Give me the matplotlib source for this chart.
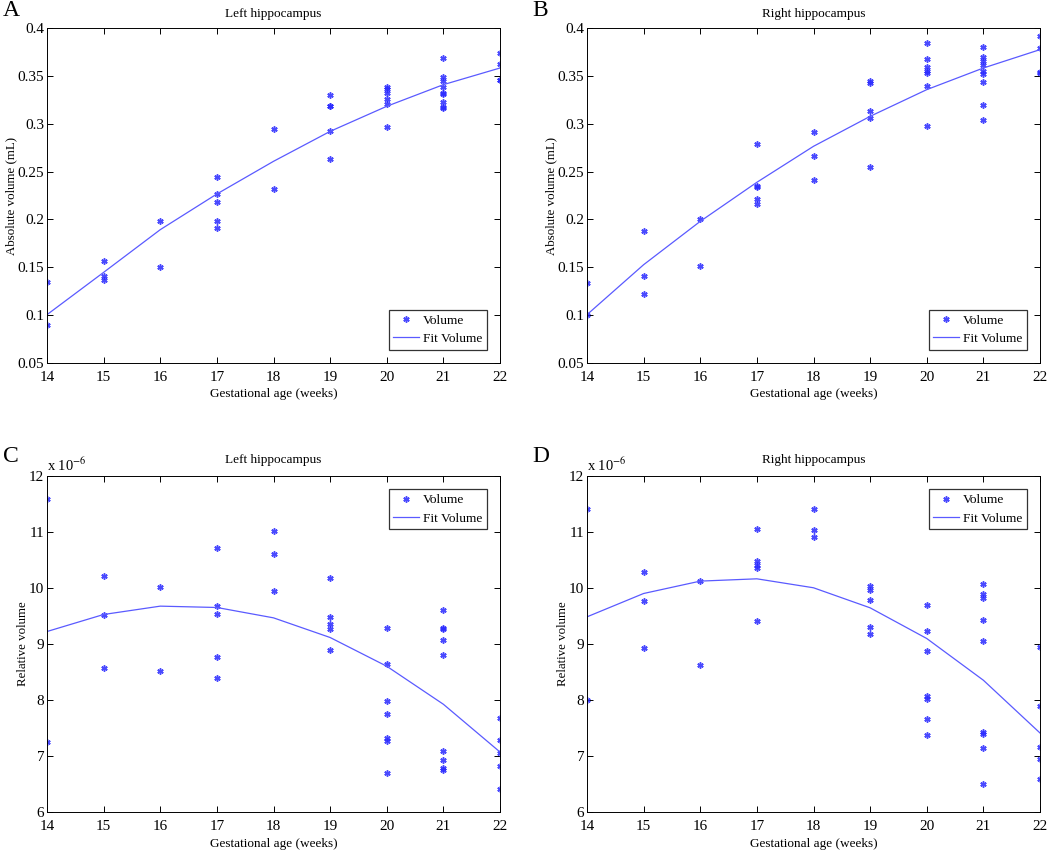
import numpy as np
import matplotlib
matplotlib.use("Agg")
import matplotlib.pyplot as plt
from matplotlib.ticker import FuncFormatter

plt.rcParams['font.family'] = ['Liberation Serif', 'DejaVu Serif']
plt.rcParams['mathtext.fontset'] = 'stix'

weeks = [14, 15, 16, 17, 18, 19, 20, 21, 22]

# A: left hippocampus, absolute volume (mL)
left_abs = {
    14: [0.135, 0.090],
    15: [0.157, 0.1405, 0.137],
    16: [0.1987, 0.150],
    17: [0.244, 0.2266, 0.2182, 0.1987, 0.1907],
    18: [0.2945, 0.2321],
    19: [0.330, 0.3189, 0.318, 0.2927, 0.2631],
    20: [0.3384, 0.3363, 0.3317, 0.3255, 0.3206, 0.2966],
    21: [0.3687, 0.3492, 0.345, 0.3387, 0.3317, 0.331, 0.323, 0.3175, 0.3168],
    22: [0.3739, 0.3624, 0.346, 0.3453],
}
left_abs_fit = [0.1005, 0.1447, 0.1893, 0.2266, 0.2607, 0.292, 0.3182, 0.3408, 0.3582]

# B: right hippocampus, absolute volume (mL)
right_abs = {
    14: [0.1336, 0.1005],
    15: [0.188, 0.1405, 0.1224],
    16: [0.2008, 0.1517],
    17: [0.2785, 0.2353, 0.2335, 0.2217, 0.2165],
    18: [0.2913, 0.2666, 0.2415],
    19: [0.345, 0.3422, 0.3136, 0.3063, 0.2548],
    20: [0.3847, 0.368, 0.3596, 0.3547, 0.3533, 0.3394, 0.298],
    21: [0.3798, 0.3697, 0.3652, 0.3617, 0.3554, 0.352, 0.3436, 0.3192, 0.3042],
    22: [0.392, 0.3788, 0.354, 0.3533],
}
right_abs_fit = [0.1005, 0.1527, 0.198, 0.2388, 0.2764, 0.3077, 0.3356, 0.3582, 0.3774]

# C: left hippocampus, relative volume (x 10^-6)
left_rel = {
    14: [11.583, 7.244],
    15: [10.218, 9.509, 8.573],
    16: [10.021, 8.514],
    17: [10.707, 9.682, 9.527, 8.770, 8.395],
    18: [11.023, 10.611, 9.938],
    19: [10.182, 9.485, 9.36, 9.259, 8.889],
    20: [9.277, 8.639, 7.983, 7.757, 7.328, 7.262, 6.702],
    21: [9.604, 9.282, 9.27, 9.074, 8.80, 7.095, 6.929, 6.78, 6.744],
    22: [7.679, 7.292, 7.06, 6.821, 6.41],
}
left_rel_fit = [9.223, 9.527, 9.676, 9.652, 9.467, 9.116, 8.603, 7.924, 7.071]

# D: right hippocampus, relative volume (x 10^-6)
right_rel = {
    14: [11.416, 8.007],
    15: [10.284, 9.771, 8.931],
    16: [10.123, 8.627],
    17: [11.052, 10.474, 10.403, 10.349, 9.402],
    18: [11.41, 11.035, 10.909],
    19: [10.033, 9.962, 9.783, 9.306, 9.175],
    20: [9.694, 9.241, 8.883, 8.067, 8.019, 7.662, 7.375],
    21: [10.075, 9.896, 9.825, 9.437, 9.056, 7.423, 7.399, 7.137, 6.505],
    22: [8.943, 7.888, 7.155, 6.953, 6.589],
}
right_rel_fit = [9.485, 9.902, 10.123, 10.164, 10.004, 9.646, 9.098, 8.353, 7.411]

W, H = 1050, 852
fig = plt.figure(figsize=(W / 100, H / 100), dpi=100)


def px_axes(l, r, t, b):
    return fig.add_axes([l / W, 1 - b / H, (r - l) / W, (b - t) / H])


def panel(ax, pts, fit, title, letter, letter_x, ylabel, ylim, yticks, legloc, rel):
    xs = [w for w in weeks for _ in pts[w]]
    ys = [v for w in weeks for v in pts[w]]
    ax.plot(xs, ys, linestyle='none', marker=(6, 2, 0), color='#2a2aff',
            markersize=4.5, markeredgewidth=1.1, alpha=0.85, label='Volume')
    ax.plot(weeks, fit, '-', color='#5a5aff', linewidth=0.9, label='Fit Volume')
    ax.set_xlim(14, 22)
    ax.set_ylim(*ylim)
    ax.set_xticks(weeks)
    ax.set_yticks(yticks)
    ax.yaxis.set_major_formatter(FuncFormatter(lambda v, p: '%g' % round(v, 4)))
    ax.tick_params(direction='in', top=True, right=True, labelsize=11, length=4,
                   width=0.7)
    ax.tick_params(axis='x', pad=6)
    ax.tick_params(axis='y', pad=2)
    for s in ax.spines.values():
        s.set_linewidth(0.7)
    ax.set_title(title, fontsize=9.5, pad=8 if not rel else 9)
    ax.set_xlabel('Gestational age (weeks)', fontsize=9.5, labelpad=3)
    ax.set_ylabel(ylabel, fontsize=9.3, labelpad=0)
    leg = ax.legend(loc=legloc, fontsize=9.6, fancybox=False, edgecolor='#333333',
                    borderaxespad=1.0, handlelength=1.9, handletextpad=0.3,
                    borderpad=0.35, labelspacing=0.45, framealpha=1)
    leg.get_frame().set_linewidth(0.9)
    bb = ax.get_position()
    fig.text(letter_x / W, bb.y1 + (7 if not rel else 9) / H, letter,
             fontsize=17, ha='left', va='bottom')
    if rel:
        ax.text(0.0, 1.005, r'x 10$^{-6}$', transform=ax.transAxes,
                fontsize=10.5, ha='left', va='bottom')


axA = px_axes(47, 500, 28, 363)
axB = px_axes(587, 1040, 28, 363)
axC = px_axes(47, 500, 476, 812)
axD = px_axes(587, 1040, 476, 812)

abs_ticks = [0.05, 0.1, 0.15, 0.2, 0.25, 0.3, 0.35, 0.4]
rel_ticks = [6, 7, 8, 9, 10, 11, 12]

panel(axA, left_abs, left_abs_fit, 'Left hippocampus', 'A', 3,
      'Absolute volume (mL)', (0.05, 0.4), abs_ticks, 'lower right', False)
panel(axB, right_abs, right_abs_fit, 'Right hippocampus', 'B', 532,
      'Absolute volume (mL)', (0.05, 0.4), abs_ticks, 'lower right', False)
panel(axC, left_rel, left_rel_fit, 'Left hippocampus', 'C', 3,
      'Relative volume', (6, 12), rel_ticks, 'upper right', True)
panel(axD, right_rel, right_rel_fit, 'Right hippocampus', 'D', 532,
      'Relative volume', (6, 12), rel_ticks, 'upper right', True)

fig.savefig('out.png', dpi=100)
